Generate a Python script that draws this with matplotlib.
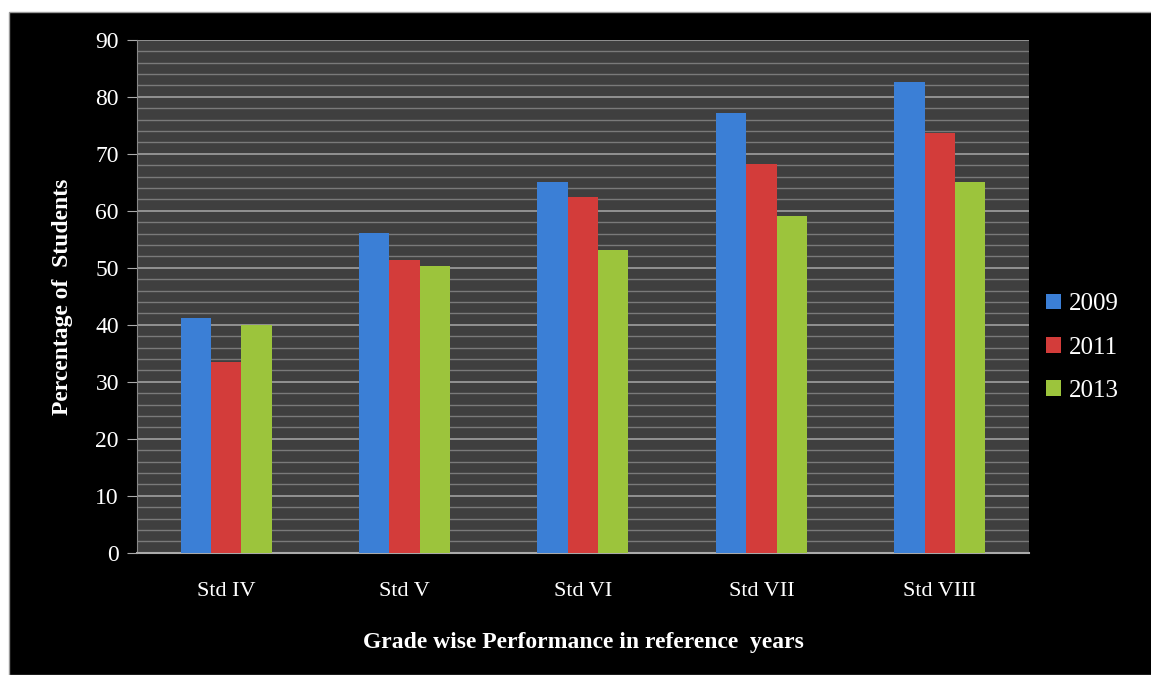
import numpy as np
import matplotlib
matplotlib.use('Agg')
import matplotlib.pyplot as plt
from matplotlib.patches import Rectangle
from matplotlib.ticker import MultipleLocator

grades = ['Std IV', 'Std V', 'Std VI', 'Std VII', 'Std VIII']
years = ['2009', '2011', '2013']
pct_2009 = [41.2, 56.1, 65.1, 77.2, 82.6]
pct_2011 = [33.5, 51.4, 62.5, 68.2, 73.7]
pct_2013 = [40.0, 50.4, 53.1, 59.1, 65.1]

colors = ['#3b7fd6', '#d33c3a', '#9cc43c']

plt.rcParams['font.family'] = ['Liberation Serif', 'DejaVu Serif']

fig = plt.figure(figsize=(11.51, 6.75), dpi=100, facecolor='white')
# black chart area (white strip on top and left like the source image)
bg = Rectangle((9 / 1151, 0), 1, 663 / 675, transform=fig.transFigure,
               facecolor='black', edgecolor='#999999', lw=1, zorder=-10)
fig.add_artist(bg)

ax = fig.add_axes([0.119, 0.181, 0.775, 0.760])
ax.set_zorder(1)
ax.set_facecolor('#3f3f3f')

x = np.arange(len(grades))
w = 0.17
for i, (vals, c, lab) in enumerate(zip([pct_2009, pct_2011, pct_2013], colors, years)):
    ax.bar(x + (i - 1) * w, vals, w, color=c, label=lab, zorder=3)

ax.set_xlim(-0.5, len(grades) - 0.5)
ax.set_ylim(0, 90)
ax.yaxis.set_major_locator(MultipleLocator(10))
ax.yaxis.set_minor_locator(MultipleLocator(2))
ax.grid(axis='y', which='major', color='#a0a0a0', lw=1.2, zorder=1)
ax.grid(axis='y', which='minor', color='#7a7a7a', lw=1.0, zorder=1)

for s in ['top', 'right']:
    ax.spines[s].set_visible(False)
ax.spines['left'].set_color('#888888')
ax.spines['bottom'].set_color('#aaaaaa')
ax.spines['bottom'].set_linewidth(1.5)

ax.set_xticks(x)
ax.set_xticklabels(grades)
ax.tick_params(axis='x', length=0, pad=21, colors='white', labelsize=16)
ax.tick_params(axis='y', which='major', length=7, color='#aaaaaa', colors='white', labelsize=17, pad=6)
ax.tick_params(axis='y', which='minor', length=0)

ax.set_ylabel('Percentage of  Students', color='white', fontsize=17, fontweight='bold', labelpad=16)
ax.set_xlabel('Grade wise Performance in reference  years', color='white', fontsize=17,
              fontweight='bold', labelpad=22)

leg = ax.legend(loc='center left', bbox_to_anchor=(1.0, 0.40), frameon=False,
                labelcolor='white', fontsize=18, handlelength=0.6, handleheight=0.6,
                handletextpad=0.3, labelspacing=0.85, borderaxespad=0.3)

fig.savefig('out.png', dpi=100, facecolor=fig.get_facecolor())
